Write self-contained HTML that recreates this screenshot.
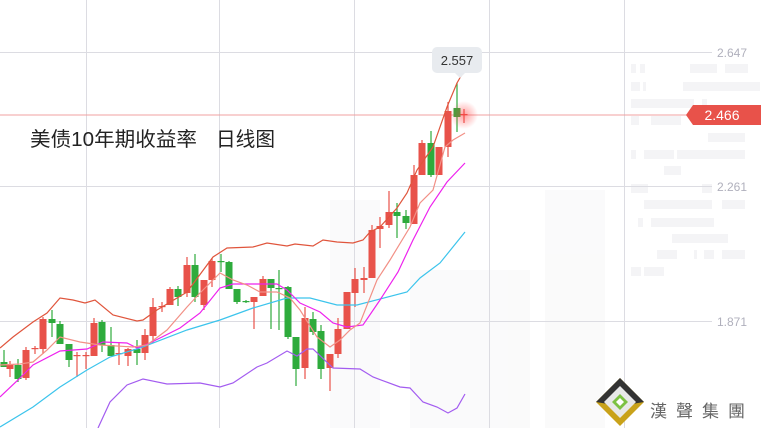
<!DOCTYPE html>
<html><head><meta charset="utf-8"><style>
html,body{margin:0;padding:0;background:#fff;}
svg{display:block;font-family:"Liberation Sans","Noto Sans CJK SC",sans-serif;}
</style></head><body>
<svg id="s" width="761" height="428" viewBox="0 0 761 428" xmlns="http://www.w3.org/2000/svg">
<rect width="761" height="428" fill="#fff"/>
<g fill="#f4f4f6">
<rect x="631" y="64" width="5" height="9"/><rect x="640" y="64" width="5" height="9"/><rect x="690" y="64" width="27" height="9"/><rect x="725" y="64" width="23" height="9"/>
<rect x="631" y="82" width="9" height="9"/><rect x="643" y="82" width="3" height="9"/><rect x="683" y="82" width="77" height="9"/>
<rect x="631" y="99" width="63" height="9"/><rect x="702" y="99" width="5" height="9"/>
<rect x="631" y="116" width="8" height="9"/><rect x="651" y="116" width="30" height="9"/>
<rect x="708" y="133" width="37" height="9"/>
<rect x="631" y="150" width="5" height="9"/><rect x="644" y="150" width="30" height="9"/><rect x="677" y="150" width="68" height="9"/>
<rect x="664" y="166" width="17" height="9"/>
<rect x="631" y="184" width="17" height="9"/><rect x="702" y="184" width="10" height="9"/>
<rect x="644" y="200" width="68" height="9"/><rect x="722" y="200" width="23" height="9"/>
<rect x="638" y="218" width="5" height="9"/><rect x="651" y="218" width="63" height="9"/>
<rect x="672" y="234" width="56" height="9"/>
<rect x="657" y="250" width="20" height="9"/><rect x="694" y="250" width="3" height="9"/><rect x="704" y="250" width="10" height="9"/><rect x="722" y="250" width="23" height="9"/>
<rect x="631" y="267" width="10" height="9"/><rect x="644" y="267" width="20" height="9"/>
</g>
<g fill="#f8f8f9" opacity="0.7">
<rect x="330" y="200" width="50" height="228"/><rect x="545" y="190" width="60" height="238"/>
<rect x="410" y="270" width="120" height="158"/>
</g>
<g stroke="#dcdce2" stroke-width="1">
<line x1="0" y1="52.5" x2="712" y2="52.5"/><line x1="0" y1="186.5" x2="712" y2="186.5"/><line x1="0" y1="321.5" x2="712" y2="321.5"/>
<line x1="86.5" y1="0" x2="86.5" y2="428"/><line x1="219.5" y1="0" x2="219.5" y2="428"/><line x1="354.5" y1="0" x2="354.5" y2="428"/><line x1="489.5" y1="0" x2="489.5" y2="428"/><line x1="624.5" y1="0" x2="624.5" y2="428"/>
</g>
<g font-size="12" fill="#b0b0bc">
<text x="717" y="57">2.647</text><text x="717" y="191">2.261</text><text x="717" y="326">1.871</text>
</g>
<line x1="0" y1="115" x2="690" y2="115" stroke="#f0a0a0" stroke-width="1"/>
<g id="c"></g>
<g fill="none" stroke-width="1.2">
<polyline stroke="#a35cf0" points="98,428 110,402 127,385 143,379 167,384 200,383 220,387 233,383 257,367 267,363 287,351 297,356 307,349 313,349 333,368 360,369 373,377 400,387 410,388 423,402 437,407 448,413 457,408 465,394"/>
<polyline stroke="#3cc4ec" points="0,427 33,407 60,387 87,370 110,357 140,348 187,330 220,320 253,308 287,298 310,298 337,305 357,305 407,292 420,278 440,263 465,232"/>
<polyline stroke="#ee22ee" points="0,397 20,378 33,365 60,351 87,349 103,342 127,343 137,348 150,343 180,328 200,313 220,288 233,284 277,284 287,290 300,303 320,312 333,323 347,327 363,325 380,300 398,272 413,240 430,207 447,182 465,163"/>
<polyline stroke="#f29086" points="0,365 20,364 33,362 47,350 60,337 80,342 100,345 133,347 147,345 167,330 187,307 200,293 220,273 233,280 247,285 260,292 277,292 290,298 300,310 317,337 330,347 340,340 350,330 360,323 377,280 390,260 410,227 420,203 433,190 445,147 453,140 465,133"/>
<polyline stroke="#e0553c" points="0,348 13,337 33,322 47,313 60,298 73,300 85,303 95,300 113,315 137,321 143,320 157,310 187,292 213,257 227,248 253,247 267,243 287,246 295,244 313,246 323,240 337,242 353,243 363,240 370,232 380,227 397,208 407,193 417,170 433,147 447,107 457,83 465,69"/>
</g>
<defs><radialGradient id="g"><stop offset="0" stop-color="#ff4040" stop-opacity="0.5"/><stop offset="1" stop-color="#ff4040" stop-opacity="0"/></radialGradient></defs>
<circle cx="464" cy="115" r="14" fill="url(#g)"/>
<path d="M432,52 a5,5 0 0 1 5,-5 h40 a5,5 0 0 1 5,5 v16 a5,5 0 0 1 -5,5 h-12 l-5,5 l-5,-5 h-18 a5,5 0 0 1 -5,-5z" fill="#e8ebef"/>
<text x="457" y="65" font-size="13" fill="#333" text-anchor="middle">2.557</text>
<path d="M693,105 H761 V125 H693 L686,115Z" fill="#e8524a"/>
<text x="722" y="120" font-size="14" fill="#fff" text-anchor="middle">2.466</text>
<text x="30" y="146" font-size="20" fill="#222" textLength="167" lengthAdjust="spacingAndGlyphs">美债10年期收益率</text>
<text x="216" y="146" font-size="20" fill="#222" textLength="59" lengthAdjust="spacingAndGlyphs">日线图</text>
<g transform="translate(620,402)">
<path d="M0,-24 L24,0 L0,24 L-24,0Z" fill="#c9a21a"/>
<path d="M0,-24 L24,0 L0,4 L-24,0Z" fill="#333"/>
<path d="M0,-16 L16,0 L0,16 L-16,0Z" fill="#e8e8e8"/>
<path d="M0,-8 L8,0 L0,8 L-8,0Z" fill="#7cc143"/>
<path d="M0,-4 L4,0 L0,4 L-4,0Z" fill="#fff"/>
</g>
<text x="650" y="417" font-size="17" fill="#666" letter-spacing="9">漢聲集團</text>
</svg>
<script>
var d=[
[4,'g',362,367,350,367],[10,'r',364,369,361,377],[18,'g',365,379,359,382],[26,'r',350,378,347,380],[35,'r',348,349,346,354],
[43,'r',319,349,317,354],[52,'g',319,323,310,337],[60,'g',324,344,321,344],[69,'g',344,360,344,367],[77,'r',355,356,352,377],
[86,'r',355,356,352,369],[94,'r',323,356,318,356],[102,'g',322,345,320,352],[111,'g',345,356,327,356],[119,'r',353,354,343,365],
[128,'r',349,356,348,366],[137,'g',349,353,340,365],[145,'r',335,353,329,360],[153,'r',307,336,298,343],[162,'r',306,307,302,312],
[170,'r',289,305,287,305],[178,'g',289,297,286,306],[187,'r',265,293,257,297],[195,'g',265,297,254,302],[204,'r',280,305,280,310],
[212,'r',261,280,258,287],[221,'g',261,262,254,272],[229,'g',262,289,261,289],[237,'g',289,302,289,304],[246,'g',301,302,300,303],
[254,'r',297,302,297,329],[263,'r',279,296,276,296],[271,'g',279,288,279,329],[279,'g',288,289,270,330],[288,'g',287,337,286,339],
[296,'g',337,369,337,386],[305,'r',318,368,307,379],[313,'g',319,332,312,335],[321,'g',331,369,325,379],[330,'r',354,368,354,391],
[338,'r',329,354,318,358],[347,'r',292,329,292,329],[355,'r',279,293,268,307],[364,'r',278,280,267,293],[372,'r',230,278,225,278],
[380,'r',226,229,217,248],[389,'r',212,225,191,228],[397,'g',212,216,203,238],[406,'g',216,223,210,229],[414,'r',175,224,165,224],
[422,'r',143,175,140,175],[431,'g',143,175,131,177],[439,'r',147,175,147,175],[448,'r',111,147,102,157],[457,'g',108,117,83,132],
[464,'r',114,115,109,123]];
var g=document.getElementById('c'),h='';
d.forEach(function(c){var col=c[1]=='r'?'#e8524a':'#2eab3c';
h+='<line x1="'+c[0]+'" x2="'+c[0]+'" y1="'+c[4]+'" y2="'+c[5]+'" stroke="'+col+'" stroke-width="1.2"/>';
h+='<rect x="'+(c[0]-3.5)+'" y="'+c[2]+'" width="7" height="'+Math.max(1.2,c[3]-c[2])+'" fill="'+col+'"/>';});
g.innerHTML=h;
</script>
</body></html>
